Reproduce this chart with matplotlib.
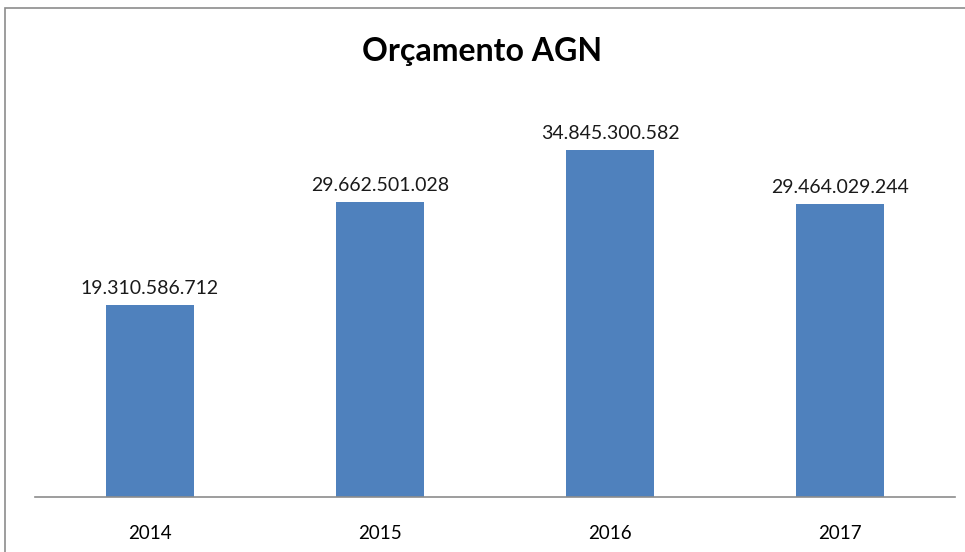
import matplotlib
matplotlib.use("Agg")
import matplotlib.pyplot as plt
from matplotlib.patches import Rectangle

plt.rcParams["font.family"] = ["Lato", "DejaVu Sans"]

years = ["2014", "2015", "2016", "2017"]
budget = [19310586712, 29662501028, 34845300582, 29464029244]
labels = ["19.310.586.712", "29.662.501.028", "34.845.300.582", "29.464.029.244"]

W, H = 965, 552
fig = plt.figure(figsize=(W / 100, H / 100), dpi=100)

# outer chart border like the spreadsheet frame
fig.patches.append(Rectangle((5 / W, -0.02), 1.0, 1 - 8 / H + 0.02,
                             transform=fig.transFigure, fill=False,
                             edgecolor="#8c8c8c", linewidth=1.2))

ax = fig.add_axes([35 / W, (H - 497) / H, 920 / W, (497 - 99) / H])
x = range(len(years))
ax.bar(x, budget, width=0.385, color="#4F81BD")
for xi, v, lab in zip(x, budget, labels):
    ax.text(xi, v + 0.8e9, lab, ha="center", va="bottom", fontsize=14, color="#1a1a1a")

ax.set_xlim(-0.5, 3.5)
ax.set_ylim(0, 40e9)
ax.set_xticks(list(x))
ax.set_xticklabels(years, fontsize=13.5)
ax.tick_params(axis="x", length=0, pad=20)
ax.set_yticks([])
for s in ["top", "right", "left"]:
    ax.spines[s].set_visible(False)
ax.spines["bottom"].set_color("#8c8c8c")
ax.spines["bottom"].set_linewidth(1.2)

fig.text(482 / W, 1 - 52 / H, "Orçamento AGN", ha="center", va="center",
         fontsize=23, fontweight="bold")

fig.savefig("out.png", dpi=100)
